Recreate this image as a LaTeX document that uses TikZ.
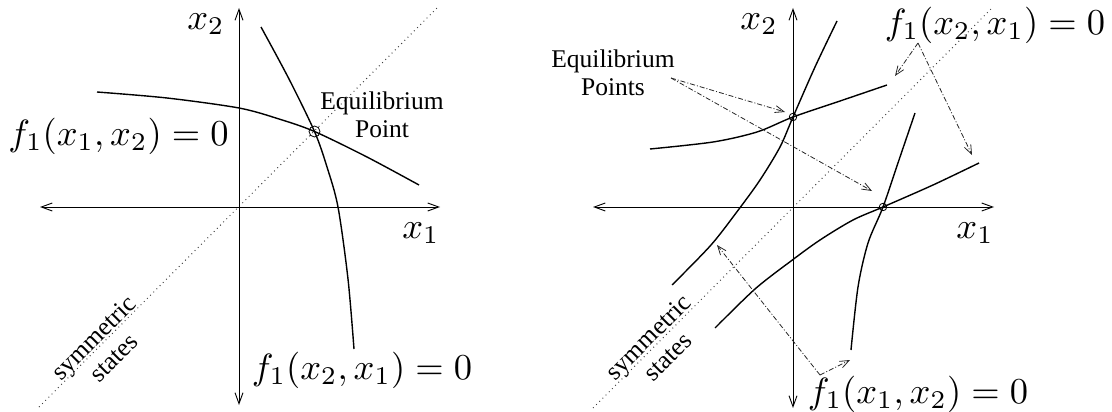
\documentclass[tikz,border=0pt]{standalone}
\usepackage[no-math]{fontspec}
\usepackage{graphicx}
\newfontfamily\tmsfont{Liberation Serif}
\usetikzlibrary{arrows.meta}
\newcommand{\figmath}[1]{\scalebox{3.65}{$#1$}}
\begin{document}
\begin{tikzpicture}[x=1pt,y=1pt,
  axis/.style={line width=0.9pt, {Straight Barb[length=11pt,width=8pt]}-{Straight Barb[length=11pt,width=8pt]}},
  curve/.style={line width=1.4pt},
  diag/.style={black!75, line width=1pt, dash pattern=on 0.9pt off 3.6pt},
  ptr/.style={line width=0.8pt, black!85, dash pattern=on 5pt off 2pt on 1pt off 2pt, -{Straight Barb[length=9pt,width=7pt]}},
  eqpt/.style={circle, draw, line width=0.8pt, inner sep=0pt},
  mlabel/.style={font=\fontsize{10}{12}\selectfont, inner sep=0pt},
  tlabel/.style={font=\fontsize{25.5}{28}\selectfont\tmsfont, align=center, inner sep=0pt},
]
\useasboundingbox (0,0) rectangle (1112,-412);

% ---------------- left diagram ----------------
\begin{scope}[shift={(239,-207)}]
  \coordinate (Ld1) at (-200,-200); \coordinate (Ld2) at (198,199);
  \coordinate (Lh1) at (-199,0);    \coordinate (Lh2) at (201,0);
  \coordinate (Lv1) at (0,-198);    \coordinate (Lv2) at (0,199);
  \draw[diag] (Ld1) -- (Ld2);
  \draw[axis] (Lh1) -- (Lh2);
  \draw[axis] (Lv1) -- (Lv2);
  \draw[curve] plot[smooth] coordinates {(-142,115) (-72,109) (0,99) (40,88) (75.5,75.5) (128,50) (180,22)};
  \begin{scope}[cm={0,1,1,0,(0,0)}]
    \draw[curve] plot[smooth] coordinates {(-142,115) (-72,109) (0,99) (40,88) (75.5,75.5) (128,50) (180,22)};
  \end{scope}
  \node[eqpt, minimum size=11pt] (Lep) at (75.5,75.5) {};
  \node[mlabel] (Lx2) at (-33,183) {\figmath{x_2}};
  \node[mlabel] (Lx1) at (182,-26) {\figmath{x_1}};
  \node[mlabel] (Lf12) at (-120.5,71) {\figmath{f_1(x_1,x_2) = 0}};
  \node[mlabel] (Lf21) at (123,-163) {\figmath{f_1(x_2,x_1) = 0}};
  \node[tlabel] (Leq) at (143,92) {Equilibrium\\Point};
  \node[tlabel, rotate=45] (Lsym) at (-135.5,-140.5) {symmetric\\states};
\end{scope}

% ---------------- right diagram ----------------
\begin{scope}[shift={(793,-207)}]
  \coordinate (Rd1) at (-200,-201); \coordinate (Rd2) at (200,200);
  \coordinate (Rh1) at (-200,0);    \coordinate (Rh2) at (201,0);
  \coordinate (Rv1) at (0,-201);    \coordinate (Rv2) at (0,199);
  \draw[diag] (Rd1) -- (Rd2);
  \draw[axis] (Rh1) -- (Rh2);
  \draw[axis] (Rv1) -- (Rv2);
  % curve A and B
  \draw[curve] plot[smooth] coordinates {(44,186) (22,140) (0,90) (-13,60) (-33,27) (-54,-2) (-82,-38) (-121,-78)};
  \draw[curve] plot[smooth] coordinates {(-143,58) (-80,65) (-36,75) (0,90) (50,107) (94,122)};
  % reflections C and D
  \begin{scope}[cm={0,1,1,0,(0,0)}]
    \draw[curve] plot[smooth] coordinates {(44,186) (22,140) (0,90) (-13,60) (-33,27) (-54,-2) (-82,-38) (-121,-78)};
    \draw[curve] plot[smooth] coordinates {(-143,58) (-80,65) (-36,75) (0,90) (50,107) (94,122)};
  \end{scope}
  \node[eqpt, minimum size=7.5pt] (Rep1) at (0,90) {};
  \node[eqpt, minimum size=7.5pt] (Rep2) at (90,0) {};
  \node[mlabel] (Rx2) at (-34,183) {\figmath{x_2}};
  \node[mlabel] (Rx1) at (182,-26) {\figmath{x_1}};
  \node[mlabel] (Rf21) at (202,182) {\figmath{f_1(x_2,x_1) = 0}};
  \node[mlabel] (Rf12) at (125,-187) {\figmath{f_1(x_1,x_2) = 0}};
  \node[tlabel] (Req) at (-180,134) {Equilibrium\\Points};
  \node[tlabel, rotate=45] (Rsym) at (-135,-140) {symmetric\\states};
  % pointer arrows
  \coordinate (eqsrc) at (-122,129);
  \coordinate (eqt1) at (-8,95);
  \coordinate (eqt2) at (79,16);
  \coordinate (topsrc) at (125,164);
  \coordinate (topt1) at (102,131);
  \coordinate (topt2) at (179,52);
  \coordinate (botsrc) at (27,-168);
  \coordinate (bott1) at (-76,-38);
  \coordinate (bott2) at (57,-153);
  \draw[ptr] (eqsrc) -- (eqt1);
  \draw[ptr] (eqsrc) -- (eqt2);
  \draw[ptr] (topsrc) -- (topt1);
  \draw[ptr] (topsrc) -- (topt2);
  \draw[ptr] (botsrc) -- (bott1);
  \draw[ptr] (botsrc) -- (bott2);
\end{scope}
\end{tikzpicture}
\end{document}
